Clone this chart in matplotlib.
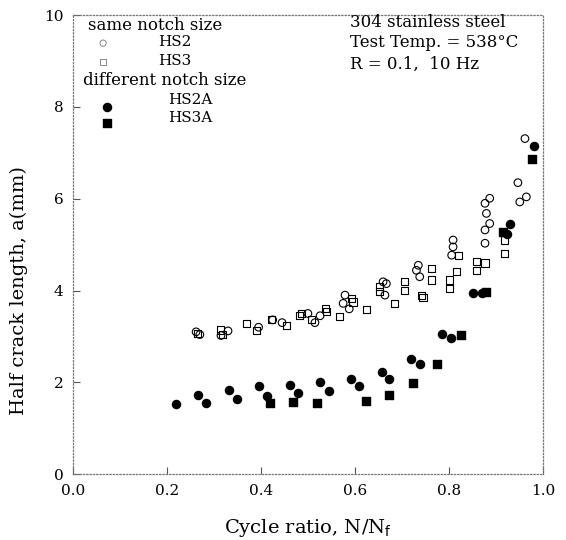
import matplotlib
matplotlib.use('Agg')
import matplotlib.pyplot as plt

# Datos (relacion de ciclos vs longitud de media grieta)
hs2_x = [0.262, 0.270, 0.315, 0.330, 0.395, 0.425, 0.445, 0.500, 0.515, 0.526,
         0.575, 0.579, 0.588, 0.660, 0.667, 0.664, 0.731, 0.735, 0.738, 0.806,
         0.809, 0.809, 0.877, 0.877, 0.880, 0.887, 0.877, 0.887, 0.947, 0.951,
         0.965, 0.962]
hs2_y = [3.10, 3.04, 3.02, 3.12, 3.20, 3.36, 3.30, 3.50, 3.30, 3.45,
         3.72, 3.90, 3.60, 4.19, 4.15, 3.90, 4.44, 4.55, 4.30, 4.77,
         5.10, 4.95, 5.03, 5.32, 5.68, 5.46, 5.90, 6.01, 6.35, 5.93,
         6.04, 7.31]

hs3_x = [0.265, 0.313, 0.318, 0.370, 0.391, 0.423, 0.455, 0.483, 0.487, 0.508,
         0.538, 0.540, 0.568, 0.596, 0.593, 0.625, 0.653, 0.653, 0.685, 0.706,
         0.706, 0.742, 0.745, 0.763, 0.763, 0.801, 0.801, 0.820, 0.816, 0.859,
         0.859, 0.877, 0.919, 0.919]
hs3_y = [3.07, 3.14, 3.05, 3.28, 3.12, 3.36, 3.24, 3.46, 3.50, 3.36,
         3.61, 3.55, 3.44, 3.75, 3.82, 3.59, 4.08, 3.97, 3.72, 4.19,
         4.01, 3.90, 3.84, 4.48, 4.23, 4.23, 4.05, 4.77, 4.41, 4.63,
         4.44, 4.60, 4.81, 5.10]

hs2a_x = [0.219, 0.267, 0.284, 0.332, 0.349, 0.396, 0.413, 0.462, 0.479, 0.526,
          0.545, 0.591, 0.609, 0.657, 0.673, 0.720, 0.738, 0.786, 0.804, 0.852,
          0.870, 0.924, 0.931, 0.981]
hs2a_y = [1.52, 1.72, 1.56, 1.83, 1.63, 1.91, 1.71, 1.95, 1.76, 2.00,
          1.82, 2.08, 1.92, 2.22, 2.08, 2.50, 2.40, 3.05, 2.96, 3.94,
          3.94, 5.24, 5.46, 7.15]

hs3a_x = [0.419, 0.469, 0.520, 0.623, 0.673, 0.723, 0.774, 0.825, 0.879, 0.916, 0.976]
hs3a_y = [1.55, 1.57, 1.56, 1.60, 1.73, 1.98, 2.40, 3.04, 3.96, 5.28, 6.86]

x_ticks = [0.0, 0.2, 0.4, 0.6, 0.8, 1.0]
x_labels = ['0.0', '0.2', '0.4', '0.6', '0.8', '1.0']
y_ticks = [0, 2, 4, 6, 8, 10]

plt.rcParams['font.family'] = ['DejaVu Serif']

fig = plt.figure(figsize=(5.66, 5.40), dpi=100)
ax = fig.add_axes([0.129, 0.122, 0.830, 0.850])

# Series
ax.scatter(hs2_x, hs2_y, s=30, marker='o', facecolors='none', edgecolors='black', linewidths=0.8)
ax.scatter(hs3_x, hs3_y, s=26, marker='s', facecolors='none', edgecolors='black', linewidths=0.8)
ax.scatter(hs2a_x, hs2a_y, s=34, marker='o', color='black')
ax.scatter(hs3a_x, hs3a_y, s=30, marker='s', color='black')

ax.set_xlim(0, 1.0)
ax.set_ylim(0, 10)
ax.set_xticks(x_ticks)
ax.set_xticklabels(x_labels)
ax.set_yticks(y_ticks)
ax.tick_params(direction='in', length=5, labelsize=11, color='#555555')
ax.tick_params(axis='x', pad=7)
ax.tick_params(axis='y', pad=7)

for sp in ax.spines.values():
    sp.set_linestyle(':')
    sp.set_color('#777777')
    sp.set_linewidth(0.9)

ax.set_xlabel('Cycle ratio, N/N$_\\mathrm{f}$', fontsize=14, labelpad=14)
ax.set_ylabel('Half crack length, a(mm)', fontsize=14)
ax.yaxis.set_label_coords(-0.095, 0.40)

# Leyenda dibujada a mano como en el original
tr = ax.transAxes
ax.text(0.032, 0.978, 'same notch size', transform=tr, fontsize=12, va='center')
ax.scatter([0.064], [0.939], s=20, marker='o', facecolors='none', edgecolors='#888888', linewidths=0.7, transform=tr)
ax.text(0.181, 0.941, 'HS2', transform=tr, fontsize=11, va='center')
ax.scatter([0.064], [0.898], s=18, marker='s', facecolors='none', edgecolors='#888888', linewidths=0.7, transform=tr)
ax.text(0.181, 0.900, 'HS3', transform=tr, fontsize=11, va='center')
ax.text(0.021, 0.858, 'different notch size', transform=tr, fontsize=12, va='center')
ax.scatter([0.072], [0.800], s=34, marker='o', color='black', transform=tr)
ax.text(0.202, 0.815, 'HS2A', transform=tr, fontsize=11, va='center')
ax.scatter([0.072], [0.765], s=30, marker='s', color='black', transform=tr)
ax.text(0.202, 0.776, 'HS3A', transform=tr, fontsize=11, va='center')

ax.text(0.589, 0.985, '304 stainless steel', transform=tr, fontsize=12, va='center')
ax.text(0.589, 0.941, 'Test Temp. = 538°C', transform=tr, fontsize=12, va='center')
ax.text(0.589, 0.893, 'R = 0.1,  10 Hz', transform=tr, fontsize=12, va='center')

fig.savefig('out.png', dpi=100)
